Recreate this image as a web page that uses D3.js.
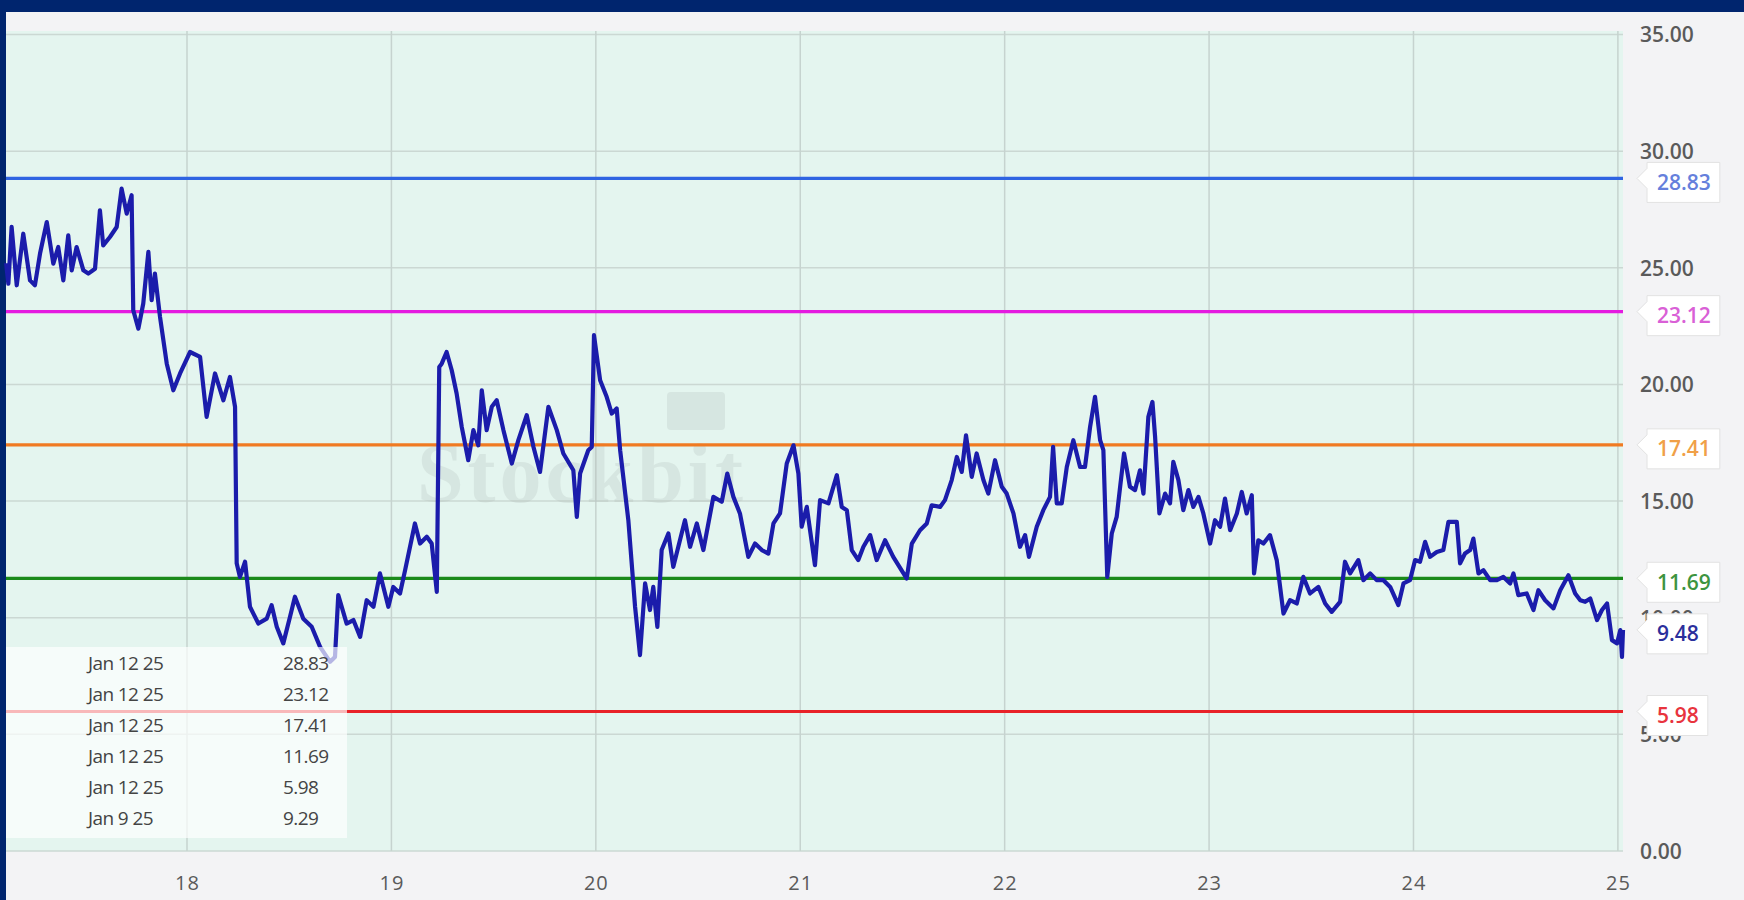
<!DOCTYPE html>
<html lang="en">
<head>
<meta charset="UTF-8">
<title>Price with levels</title>
<script src="https://d3js.org/d3.v7.min.js"></script>
<style>
  body { margin: 0; padding: 0; background: #00256e; overflow: hidden; }
  svg { display: block; }
  .axis-y text, .axis-x text { font-family: "Open Sans", sans-serif; fill: #5a5a5a; }
</style>
</head>
<body>
<svg id="chart" width="1744" height="900"></svg>
<script>
// price series (decimal year, value)
const priceYears = [
  2017.115, 2017.126, 2017.142, 2017.167, 2017.199, 2017.232, 2017.256, 2017.281, 2017.314, 2017.346,
  2017.370, 2017.395, 2017.419, 2017.436, 2017.460, 2017.493, 2017.517, 2017.550, 2017.574, 2017.590,
  2017.623, 2017.656, 2017.680, 2017.705, 2017.729, 2017.737, 2017.762, 2017.786, 2017.811, 2017.827,
  2017.843, 2017.868, 2017.901, 2017.933, 2017.966, 2018.015, 2018.064, 2018.096, 2018.137, 2018.178,
  2018.210, 2018.235, 2018.243, 2018.259, 2018.284, 2018.308, 2018.349, 2018.390, 2018.414, 2018.439,
  2018.471, 2018.504, 2018.528, 2018.569, 2018.610, 2018.651, 2018.700, 2018.724, 2018.740, 2018.781,
  2018.814, 2018.847, 2018.879, 2018.912, 2018.944, 2018.985, 2019.009, 2019.042, 2019.067, 2019.115,
  2019.140, 2019.173, 2019.197, 2019.222, 2019.234,
  2019.246, 2019.270, 2019.295, 2019.319, 2019.344, 2019.376, 2019.401, 2019.425, 2019.442, 2019.466,
  2019.491, 2019.515, 2019.548, 2019.589, 2019.621, 2019.662, 2019.695, 2019.727, 2019.768, 2019.809,
  2019.841, 2019.890, 2019.907, 2019.923, 2019.963, 2019.980, 2019.991, 2020.021, 2020.053, 2020.078,
  2020.102, 2020.119, 2020.159, 2020.192, 2020.216, 2020.241, 2020.265, 2020.281, 2020.301, 2020.322,
  2020.355, 2020.379, 2020.436, 2020.461, 2020.494, 2020.526, 2020.575, 2020.616, 2020.643, 2020.673,
  2020.705, 2020.746, 2020.779, 2020.812, 2020.844, 2020.869, 2020.901, 2020.934, 2020.967, 2020.991,
  2021.007, 2021.032, 2021.072, 2021.097, 2021.138, 2021.179, 2021.203,
  2021.228, 2021.252, 2021.284, 2021.309, 2021.342, 2021.374, 2021.415, 2021.455, 2021.521, 2021.546,
  2021.586, 2021.619, 2021.643, 2021.684, 2021.708, 2021.741, 2021.766, 2021.790, 2021.811, 2021.839,
  2021.863, 2021.896, 2021.920, 2021.953, 2021.986, 2022.010, 2022.043, 2022.075, 2022.100, 2022.119,
  2022.157, 2022.189, 2022.222, 2022.237, 2022.255, 2022.279, 2022.304, 2022.336, 2022.369, 2022.393,
  2022.418, 2022.442, 2022.467, 2022.483, 2022.502, 2022.524, 2022.548, 2022.565, 2022.584, 2022.613,
  2022.638, 2022.662, 2022.679, 2022.703, 2022.723, 2022.736, 2022.757, 2022.785, 2022.809, 2022.825,
  2022.850, 2022.874, 2022.899, 2022.923, 2022.948, 2022.972, 2023.005, 2023.029, 2023.054, 2023.078,
  2023.103, 2023.136, 2023.160, 2023.184, 2023.209, 2023.220, 2023.241, 2023.266, 2023.298,
  2023.331, 2023.364, 2023.396, 2023.429, 2023.461, 2023.494, 2023.535, 2023.568, 2023.600, 2023.641,
  2023.665, 2023.690, 2023.730, 2023.755, 2023.788, 2023.820, 2023.853, 2023.886, 2023.926, 2023.951,
  2023.983, 2024.008, 2024.032, 2024.057, 2024.081, 2024.114, 2024.146, 2024.171, 2024.212, 2024.228,
  2024.252, 2024.277, 2024.293, 2024.318, 2024.342, 2024.375, 2024.408, 2024.440, 2024.473, 2024.489,
  2024.513, 2024.554, 2024.587, 2024.611, 2024.644, 2024.685, 2024.718, 2024.758, 2024.791, 2024.816,
  2024.840, 2024.865, 2024.898, 2024.922, 2024.947, 2024.971, 2024.996, 2025.012, 2025.020, 2025.025
];
const priceValues = [
  25.20, 24.32, 26.75, 24.25, 26.46, 24.46, 24.25, 25.61, 26.96, 25.18,
  25.89, 24.46, 26.39, 24.89, 25.89, 24.89, 24.75, 24.96, 27.46, 25.96,
  26.32, 26.75, 28.39, 27.32, 28.11, 23.18, 22.39, 23.47, 25.68, 23.61,
  24.75, 22.89, 20.89, 19.75, 20.47, 21.39, 21.18, 18.61, 20.47, 19.32,
  20.32, 19.04, 12.33, 11.75, 12.40, 10.47, 9.75, 9.96, 10.54, 9.61,
  8.90, 10.04, 10.90, 9.96, 9.61, 8.75, 8.11, 8.32, 10.97, 9.75,
  9.90, 9.18, 10.75, 10.47, 11.90, 10.47, 11.32, 11.04, 12.04, 14.04,
  13.18, 13.47, 13.18, 11.11, 20.75,
  20.89, 21.39, 20.61, 19.61, 18.18, 16.75, 18.04, 17.39, 19.75, 18.04,
  19.04, 19.32, 18.04, 16.61, 17.61, 18.68, 17.32, 16.25, 19.04, 18.04,
  17.04, 16.32, 14.32, 16.18, 17.18, 17.32, 22.11, 20.18, 19.47, 18.75,
  18.97, 17.18, 14.18, 10.47, 8.40, 11.47, 10.33, 11.32, 9.61, 12.90,
  13.61, 12.18, 14.18, 13.04, 14.04, 12.90, 15.18, 14.97, 16.18, 15.18,
  14.47, 12.61, 13.18, 12.90, 12.75, 14.04, 14.47, 16.61, 17.39, 16.18,
  13.90, 14.75, 12.25, 15.04, 14.90, 16.11, 14.75,
  14.61, 12.90, 12.47, 13.04, 13.54, 12.47, 13.32, 12.61, 11.68, 13.18,
  13.75, 14.04, 14.82, 14.75, 15.04, 15.90, 16.89, 16.25, 17.82, 16.04,
  17.04, 15.90, 15.32, 16.75, 15.61, 15.32, 14.47, 13.04, 13.54, 12.61,
  13.90, 14.61, 15.18, 17.32, 14.90, 14.90, 16.46, 17.61, 16.46, 16.46,
  18.18, 19.47, 17.61, 17.18, 11.75, 13.61, 14.32, 15.61, 17.04, 15.61,
  15.47, 16.32, 15.32, 18.61, 19.25, 17.75, 14.47, 15.32, 14.90, 16.68,
  15.90, 14.61, 15.47, 14.75, 15.18, 14.47, 13.18, 14.18, 13.90, 15.11,
  13.75, 14.47, 15.39, 14.47, 15.25, 11.90, 13.32, 13.18, 13.54,
  12.47, 10.18, 10.75, 10.61, 11.75, 11.04, 11.32, 10.61, 10.25, 10.68,
  12.40, 11.90, 12.47, 11.61, 11.90, 11.61, 11.61, 11.32, 10.54, 11.47,
  11.61, 12.47, 12.40, 13.25, 12.61, 12.82, 12.90, 14.11, 14.11, 12.33,
  12.75, 12.90, 13.39, 11.90, 12.04, 11.61, 11.61, 11.75, 11.47, 11.90,
  10.97, 11.04, 10.33, 11.18, 10.75, 10.40, 11.18, 11.82, 11.04, 10.75,
  10.68, 10.82, 9.90, 10.33, 10.61, 9.04, 8.90, 9.47, 8.32, 9.48
];

const levelValues = [28.83, 23.12, 17.41, 11.69, 5.98];
const levelColors = ["#2f64e2", "#e41be0", "#f07a22", "#1a8a1a", "#e82228"];
const levelTextColors = ["#6580dc", "#d960d6", "#f0a048", "#3d9440", "#e8343e"];
const lastPrice = 9.48;

const yTicks = [0, 5, 10, 15, 20, 25, 30, 35];
const xTicks = [2018, 2019, 2020, 2021, 2022, 2023, 2024, 2025];

const tipDates = ["Jan 12 25", "Jan 12 25", "Jan 12 25", "Jan 12 25", "Jan 12 25", "Jan 9 25"];
const tipValues = ["28.83", "23.12", "17.41", "11.69", "5.98", "9.29"];

const W = 1744, H = 900;
const plot = { left: 6, right: 1623, top: 31, bottom: 851 };

const svg = d3.select("#chart");

// panel background
svg.append("rect").attr("x", 6).attr("y", 12).attr("width", W - 6).attr("height", H - 12)
  .attr("fill", "#f3f3f5");
svg.append("rect").attr("x", plot.left).attr("y", plot.top)
  .attr("width", plot.right - plot.left).attr("height", plot.bottom - plot.top)
  .attr("fill", "#e4f5ef");

const x = d3.scaleLinear().domain([2017.1145, 2025.025]).range([plot.left, plot.right]);
const y = d3.scaleLinear().domain([0, 35]).range([851, 34.5]);

// grid
const grid = svg.append("g");
grid.selectAll("line.h").data(yTicks).join("line").attr("class", "h")
  .attr("x1", plot.left).attr("x2", plot.right)
  .attr("y1", d => y(d)).attr("y2", d => y(d))
  .attr("stroke", "#cbd8d3").attr("stroke-width", 1.5);
grid.selectAll("line.v").data(xTicks).join("line").attr("class", "v")
  .attr("x1", d => x(d)).attr("x2", d => x(d))
  .attr("y1", plot.top).attr("y2", plot.bottom)
  .attr("stroke", "#c6d3cf").attr("stroke-width", 1.5);

// watermark
const wm = svg.append("g").attr("opacity", 0.22);
wm.append("rect").attr("x", 667).attr("y", 392).attr("width", 58).attr("height", 38)
  .attr("rx", 4).attr("fill", "#a9b4b1");
wm.append("text").attr("x", 417).attr("y", 502)
  .attr("font-family", "Liberation Serif, serif").attr("font-size", 84).attr("font-weight", 700)
  .attr("textLength", 326).attr("fill", "#a9b4b1").text("Stockbit");

// level lines
svg.append("g").selectAll("line").data(levelValues).join("line")
  .attr("x1", plot.left).attr("x2", plot.right)
  .attr("y1", d => y(d)).attr("y2", d => y(d))
  .attr("stroke", (d, i) => levelColors[i]).attr("stroke-width", 3.2);

// price line
const pts = priceYears.map((t, i) => [t, priceValues[i]]);
svg.append("path").datum(pts)
  .attr("fill", "none").attr("stroke", "#1b1cab").attr("stroke-width", 4.2)
  .attr("stroke-linejoin", "round")
  .attr("d", d3.line().x(d => x(d[0])).y(d => y(d[1])));

// x axis labels
const xAxis = d3.axisBottom(x).tickValues(xTicks).tickSize(0).tickPadding(0)
  .tickFormat(d => String(d).slice(2));
svg.append("g").attr("class", "axis-x").attr("transform", "translate(0,876)")
  .call(xAxis)
  .call(g => g.select(".domain").remove())
  .selectAll("text").attr("font-size", 20).attr("letter-spacing", "1px");

// y axis labels on the right
const yAxis = d3.axisRight(y).tickValues(yTicks).tickSize(0).tickPadding(0)
  .tickFormat(d3.format(".2f"));
svg.append("g").attr("class", "axis-y").attr("transform", "translate(1640,0)")
  .call(yAxis)
  .call(g => g.select(".domain").remove())
  .selectAll("text").attr("font-size", 21).attr("font-weight", 600).attr("dy", "0.35em");

// value tags
function tag(v, txt, color) {
  const g = svg.append("g");
  const ly = y(v), cy = ly + 4;
  const t = g.append("text").attr("x", 1657).attr("y", cy).attr("dy", "0.36em")
    .attr("font-family", "Open Sans, sans-serif").attr("font-size", 21).attr("font-weight", 600)
    .attr("fill", color).text(txt);
  const w = t.node().getComputedTextLength();
  const l = 1647, r = 1657 + w + 9, top = cy - 20, bot = cy + 20;
  g.insert("path", "text")
    .attr("d", `M${l},${top} L${r},${top} L${r},${bot} L${l},${bot} L${l},${ly + 10} L1637,${ly} L${l},${ly - 10} Z`)
    .attr("fill", "#ffffff").attr("stroke", "#e2e2e2").attr("stroke-width", 1);
}
levelValues.forEach((v, i) => tag(v, v.toFixed(2), levelTextColors[i]));
tag(lastPrice, lastPrice.toFixed(2), "#2b2f9c");

// hover readout box
svg.append("rect").attr("x", plot.left).attr("y", 647).attr("width", 341).attr("height", 191)
  .attr("fill", "#ffffff").attr("opacity", 0.68);
const rows = svg.append("g").attr("font-family", "Open Sans, sans-serif")
  .attr("font-size", 19).attr("fill", "#444").attr("letter-spacing", "-0.6px");
rows.selectAll("text.d").data(tipDates).join("text").attr("class", "d")
  .attr("x", 88).attr("y", (d, i) => 663 + i * 31).attr("dy", "0.35em").text(d => d);
rows.selectAll("text.v").data(tipValues).join("text").attr("class", "v")
  .attr("x", 283).attr("y", (d, i) => 663 + i * 31).attr("dy", "0.35em").text(d => d);
</script>
</body>
</html>
